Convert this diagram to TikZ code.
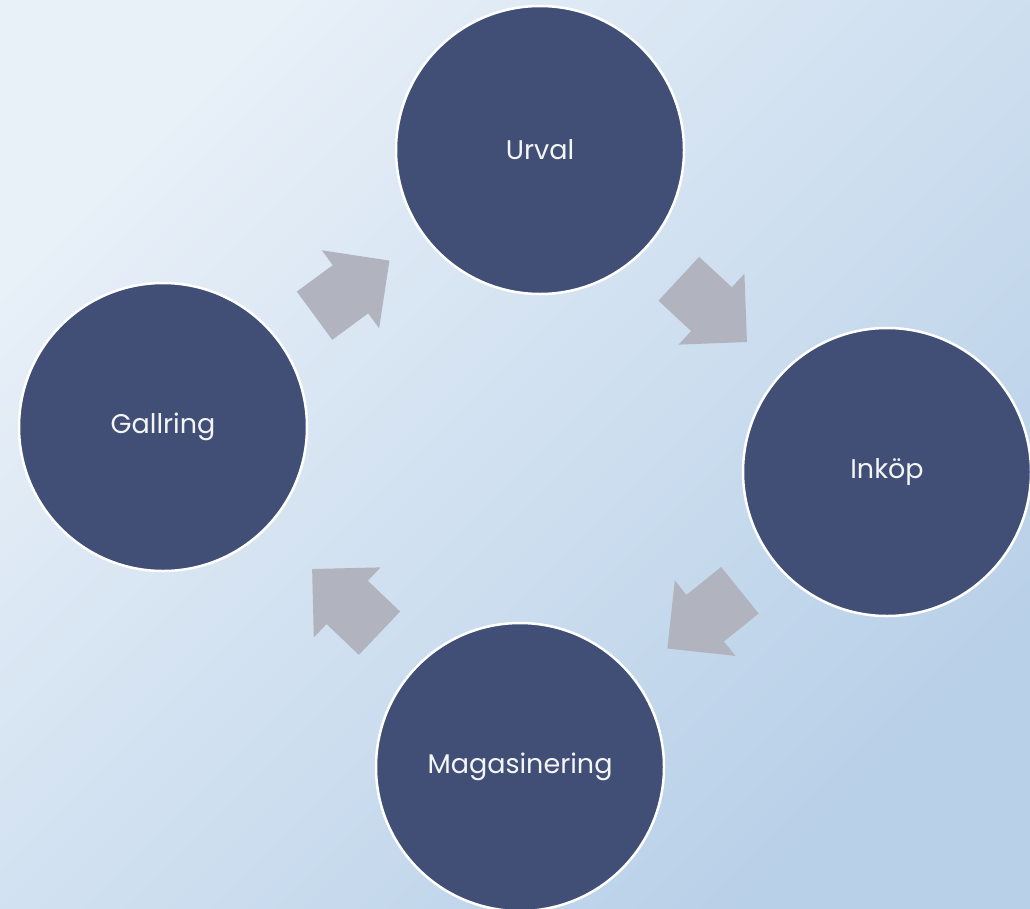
\documentclass[tikz,border=0pt]{standalone}
\usepackage{fontspec}
\setmainfont{Poppins}
\usetikzlibrary{shapes.arrows}
\definecolor{bgtop}{HTML}{E8F0F8}
\definecolor{bgbot}{HTML}{B8D0E8}
\definecolor{discfill}{HTML}{414F77}
\definecolor{arrowgray}{HTML}{B1B3BF}
\tikzset{
  stage/.style={circle, fill=discfill, draw=white, line width=2.5pt, minimum size=288pt,
    inner sep=0pt, text=white!94!discfill, font=\fontsize{27}{32}\selectfont},
  flowarrow/.style={single arrow, fill=arrowgray, draw=none, inner xsep=0pt,
    inner ysep=29.7pt, minimum height=93pt, single arrow head extend=18.5pt,
    single arrow tip angle=90, anchor=tail, pos=0.24, sloped, allow upside down}
}
\begin{document}
\begin{tikzpicture}[x=1pt,y=-1pt]
    \shade [shading=axis, top color=bgtop, bottom color=bgbot, shading angle=45]
        (0,0) rectangle (1030,908);
    \useasboundingbox (0,0) rectangle (1030,908);
    % stages
    \node [stage] (urval) at (540,150) {Urval};
    \node [stage] (inkop) at (887,472) {Inköp};
    \node [stage] (magasin) at (520,767) {Magasinering};
    \node [stage] (gallring) at (163,427) {Gallring};
    % arrows between the stages
    \path (gallring) -- node [flowarrow] (a1) {} (urval);
    \path (urval) -- node [flowarrow] (a2) {} (inkop);
    \path (inkop) -- node [flowarrow] (a3) {} (magasin);
    \path (magasin) -- node [flowarrow] (a4) {} (gallring);
\end{tikzpicture}
\end{document}
